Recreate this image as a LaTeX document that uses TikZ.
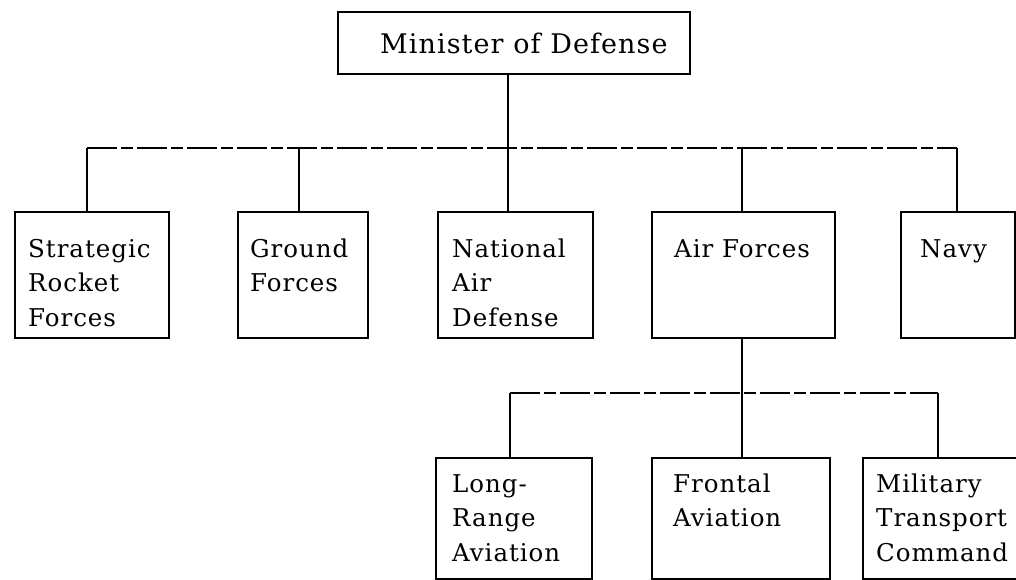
\documentclass[tikz,border=0pt]{standalone}
\usepackage{fontspec}
\setmainfont{DejaVu Serif}[LetterSpace=4.0]
\newcommand\tstrut{\rule{0pt}{20pt}}
\begin{document}
\begin{tikzpicture}[x=1pt,y=-1pt,
  box/.style={draw, line width=1.8pt, rectangle, inner sep=0pt, anchor=north west},
  lbl/.style={anchor=north west, inner sep=0pt, align=left, font=\fontsize{24.5}{34.5}\selectfont},
  conn/.style={line width=1.8pt},
  bus/.style={line width=1.8pt, dash pattern=on 30pt off 4pt on 12pt off 4pt}]
\useasboundingbox (0,0) rectangle (1016,580);
\clip (0,0) rectangle (1016,580);
% top box
\node[box, minimum width=352pt, minimum height=62pt] (mod) at (337,11) {};
\node[lbl, font=\fontsize{27}{34}\selectfont] (modt) at (380,31) {\rule{0pt}{22pt}Minister of Defense};
% second level
\node[box, minimum width=154pt, minimum height=126pt] (sr) at (14,211) {};
\node[box, minimum width=130pt, minimum height=126pt] (gf) at (237,211) {};
\node[box, minimum width=155pt, minimum height=126pt] (nad) at (437,211) {};
\node[box, minimum width=183pt, minimum height=126pt] (af) at (651,211) {};
\node[box, minimum width=114pt, minimum height=126pt] (nv) at (900,211) {};
\node[lbl] (srt) at (28,237) {\tstrut Strategic\\Rocket\\Forces};
\node[lbl] (gft) at (250,237) {\tstrut Ground\\Forces};
\node[lbl] (nadt) at (452,237) {\tstrut National\\Air\\Defense};
\node[lbl] (aft) at (674,237) {\tstrut Air Forces};
\node[lbl] (nvt) at (920,237) {\tstrut Navy};
% third level
\node[box, minimum width=156pt, minimum height=121pt] (lr) at (435,457) {};
\node[box, minimum width=178pt, minimum height=121pt] (fa) at (651,457) {};
\node[box, minimum width=175pt, minimum height=121pt] (mt) at (862,457) {};
\node[lbl] (lrt) at (452,472) {\tstrut Long-\\Range\\Aviation};
\node[lbl] (fat) at (673,472) {\tstrut Frontal\\Aviation};
\node[lbl] (mtt) at (876,472) {\tstrut Military\\Transport\\Command};
% upper bus
\coordinate (busL) at (87,148);
\coordinate (busR) at (957,148);
\coordinate (jg) at (299,148);
\coordinate (jn) at (508,148);
\coordinate (ja) at (742,148);
\draw[bus] (busL) -- (busR);
\draw[conn] (jn |- mod.south) -- (jn |- nad.north);
\draw[conn] (busL) -- (busL |- sr.north);
\draw[conn] (jg) -- (jg |- gf.north);
\draw[conn] (ja) -- (ja |- af.north);
\draw[conn] (busR) -- (busR |- nv.north);
% lower bus
\coordinate (lbL) at (510,393);
\coordinate (lbR) at (938,393);
\coordinate (lj) at (742,393);
\draw[bus] (lbL) -- (lbR);
\draw[conn] (lj |- af.south) -- (lj |- fa.north);
\draw[conn] (lbL) -- (lbL |- lr.north);
\draw[conn] (lbR) -- (lbR |- mt.north);
\end{tikzpicture}
\end{document}
